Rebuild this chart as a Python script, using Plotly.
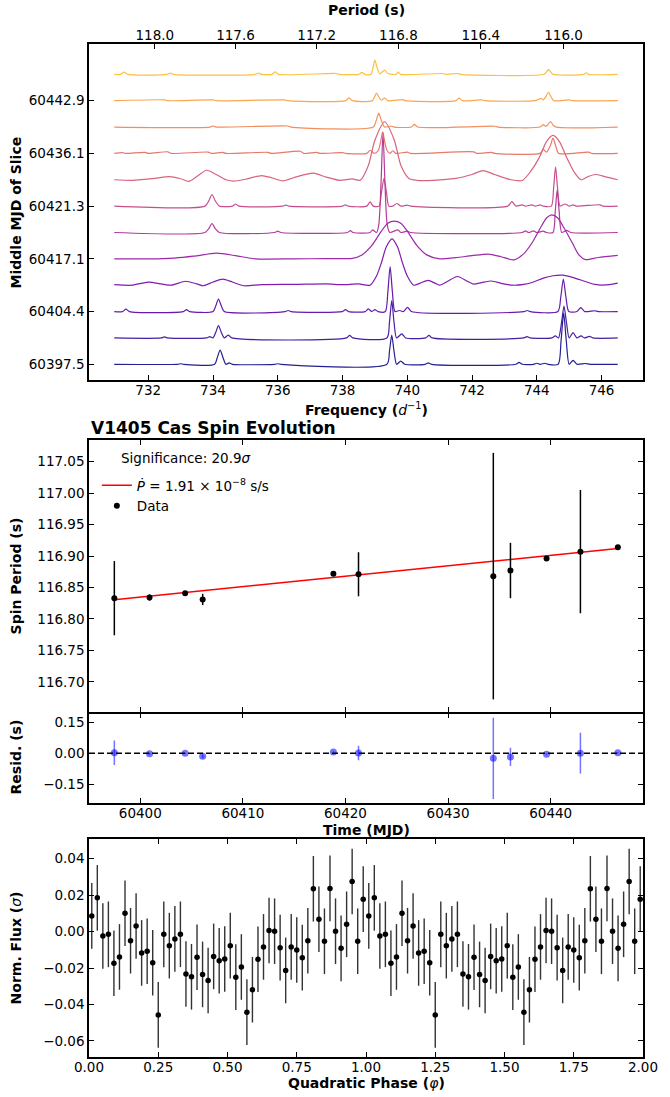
import plotly.graph_objects as go
from plotly.colors import sample_colorscale

# ---- periodogram slices: (frequency 1/d, normalised power) ----
slice_labels = ["60397.5", "60404.4", "60417.1", "60421.3", "60436.1", "60442.9"]
period_ticks = [118.0, 117.6, 117.2, 116.8, 116.4, 116.0]

slice_00 = [(730.95, 0), (732.9, 0), (733.0, 0.02), (733.1, 0), (734.05, 0), (734.13, 0.25), (734.22, 0.54),
            (734.31, 0.25), (734.4, 0), (734.5, 0.05), (734.6, 0), (735.9, 0), (736.0, 0.02), (736.1, 0),
            (739.37, 0), (739.45, 0.5), (739.52, 1.11), (739.59, 0.5), (739.67, 0), (739.8, 0.12), (739.92, 0),
            (740.55, 0), (740.65, 0.05), (740.75, 0), (743.35, 0), (743.45, 0.07), (743.55, 0), (743.9, 0),
            (744.0, 0.04), (744.1, 0), (744.25, 0.04), (744.35, 0), (744.66, 0), (744.75, 0.9), (744.83, 1.94),
            (744.91, 0.9), (745.0, 0), (745.12, 0.15), (745.24, 0), (745.5, 0.03), (745.65, 0), (746.5, 0)]
slice_01 = [(730.95, 0), (732.4, 0), (732.5, 0.04), (732.6, 0), (733.8, 0), (733.9, 0.05), (734.0, 0),
            (734.08, 0.2), (734.17, 0.47), (734.26, 0.2), (734.35, 0), (734.47, 0.11), (734.58, 0),
            (738.12, 0), (738.22, 0.1), (738.32, 0), (739.37, 0), (739.45, 0.6), (739.52, 1.42), (739.59, 0.6),
            (739.67, 0), (739.83, 0.15), (739.95, 0), (740.57, 0), (740.67, 0.1), (740.77, 0), (743.6, 0),
            (743.7, 0.05), (743.8, 0), (744.47, 0), (744.57, 0.08), (744.67, 0), (744.76, 0.55), (744.84, 1.21),
            (744.92, 0.55), (745.0, 0), (745.12, 0.2), (745.24, 0), (745.37, 0.08), (745.47, 0), (745.63, 0.06),
            (745.73, 0), (746.5, 0)]
slice_02 = [(730.95, 0), (731.2, 0), (731.31, 0.09), (731.42, 0), (733.08, 0), (733.18, 0.07), (733.28, 0),
            (734.0, 0), (734.08, 0.2), (734.17, 0.47), (734.26, 0.2), (734.35, 0), (736.22, 0), (736.32, 0.04),
            (736.42, 0), (737.99, 0), (738.09, 0.07), (738.19, 0), (738.7, 0), (738.8, 0.1), (738.9, 0),
            (739.0, 0.07), (739.1, 0), (739.32, 0), (739.4, 0.75), (739.47, 1.71), (739.54, 0.75), (739.62, 0),
            (739.76, 0.04), (739.88, 0), (740.01, 0.16), (740.13, 0), (743.6, 0), (743.7, 0.04), (743.8, 0),
            (744.65, 0), (744.74, 0.55), (744.82, 1.23), (744.9, 0.55), (744.99, 0), (745.24, 0),
            (745.36, 0.15), (745.48, 0), (745.8, 0.03), (745.9, 0), (746.5, 0)]
slice_03 = [(730.95, 0.02), (731.5, 0.0), (732.0, 0.12), (732.4, 0.05), (732.7, 0.0), (733.15, 0.15),
            (733.5, 0.05), (733.7, -0.02), (734.0, 0.12), (734.3, 0.23), (734.6, 0.12), (734.95, -0.02),
            (735.5, 0.02), (736.5, 0.03), (737.5, 0.05), (738.0, 0.02), (738.5, 0.05), (738.85, 0.0),
            (739.05, 0.35), (739.2, 0.85), (739.35, 1.45), (739.53, 1.76), (739.7, 1.45), (739.85, 0.85),
            (740.0, 0.35), (740.2, 0.0), (740.4, 0.08), (740.65, 0.18), (740.85, 0.08), (741.0, 0.0),
            (741.25, 0.15), (741.55, 0.33), (741.85, 0.15), (742.05, 0.04), (742.3, 0.1), (742.6, 0.16),
            (742.9, 0.07), (743.25, 0.0), (743.6, 0.03), (743.9, 0.12), (744.2, 0.27), (744.5, 0.36),
            (744.8, 0.38), (745.1, 0.3), (745.5, 0.14), (745.8, 0.03), (746.0, 0.0), (746.3, 0.03), (746.5, 0.08)]
slice_04 = [(730.95, 0), (732.0, 0.0), (732.8, 0.03), (733.4, 0.1), (734.1, 0.22), (734.7, 0.12), (735.3, 0.0),
            (736.5, 0.0), (737.5, 0.01), (738.3, 0.02), (738.6, 0.15), (738.9, 0.5), (739.2, 1.05), (739.4, 1.35),
            (739.6, 1.43), (739.8, 1.35), (740.0, 1.05), (740.3, 0.5), (740.6, 0.15), (741.0, 0.0), (741.5, 0.05),
            (742.0, 0.12), (742.5, 0.18), (742.9, 0.08), (743.3, -0.04), (743.6, 0.2), (743.85, 0.6),
            (744.1, 1.15), (744.3, 1.55), (744.46, 1.67), (744.65, 1.55), (744.85, 1.15), (745.1, 0.6),
            (745.3, 0.15), (745.5, -0.03), (745.9, 0.05), (746.5, 0.13)]
slice_05 = [(730.95, 0), (733.75, 0), (733.87, 0.15), (733.97, 0.34), (734.07, 0.15), (734.2, 0), (735.9, 0),
            (736.0, 0.05), (736.1, 0), (738.15, 0), (738.24, 0.07), (738.33, 0), (738.85, 0), (738.93, 0.1),
            (739.05, 0), (739.12, 0.3), (739.19, 1.9), (739.25, 3.8), (739.31, 1.9), (739.38, 0.3), (739.46, 0),
            (739.71, 0.1), (739.8, 0), (740.0, 0.05), (740.1, 0), (743.55, 0), (743.65, 0.06), (743.75, 0),
            (743.9, 0.06), (744.0, 0), (744.2, 0.05), (744.3, 0), (744.5, 0), (744.57, 0.8), (744.63, 1.62),
            (744.69, 0.8), (744.77, 0), (744.92, 0.08), (745.05, 0), (746.5, 0)]
slice_06 = [(730.95, 0), (733.75, 0), (733.87, 0.2), (733.97, 0.44), (734.07, 0.2), (734.2, 0), (734.6, 0),
            (734.7, 0.08), (734.8, 0), (736.15, 0), (736.25, 0.04), (736.35, 0), (738.0, 0), (738.09, 0.05),
            (738.18, 0), (738.75, 0), (738.85, 0.16), (738.95, 0), (739.13, 0), (739.2, 0.5), (739.28, 1.05),
            (739.36, 0.5), (739.43, 0), (739.55, 0.0), (739.68, 0.1), (739.8, 0), (740.0, 0.04), (740.1, 0),
            (743.1, 0), (743.23, 0.17), (743.36, 0), (743.55, 0.05), (743.65, 0), (743.85, 0.05), (743.95, 0),
            (744.1, 0.05), (744.2, 0), (744.45, 0), (744.52, 0.7), (744.58, 1.49), (744.64, 0.7), (744.72, 0),
            (744.87, 0.08), (745.0, 0), (745.12, 0.05), (745.22, 0), (745.95, 0.05), (746.05, 0), (746.5, 0)]
slice_07 = [(730.95, 0), (731.5, -0.02), (732.2, 0.05), (732.65, 0.12), (733.0, 0.04), (733.25, -0.06),
            (733.5, 0.12), (733.8, 0.36), (734.1, 0.2), (734.4, 0.0), (734.65, -0.05), (735.0, 0.02),
            (735.5, 0.16), (735.8, 0.08), (736.15, -0.04), (736.6, 0.12), (737.1, 0.25), (737.5, 0.1),
            (737.9, -0.02), (738.3, 0.03), (738.55, -0.02), (738.8, 0.55), (739.0, 1.5), (739.3, 2.2),
            (739.6, 1.5), (739.8, 0.55), (740.05, 0.05), (740.3, -0.02), (740.8, -0.02), (741.5, 0.05),
            (742.0, 0.2), (742.35, 0.35), (742.7, 0.2), (743.2, 0.0), (743.55, -0.03), (743.8, 0.3),
            (744.08, 0.85), (744.3, 1.45), (744.5, 1.68), (744.7, 1.45), (744.92, 0.85), (745.15, 0.3),
            (745.37, 0.0), (745.55, 0.1), (745.8, 0.2), (746.1, 0.12), (746.5, 0.0)]
slice_08 = [(730.95, 0), (731.2, 0.03), (731.3, 0), (731.9, 0.04), (732.0, 0), (732.6, 0.06), (732.7, 0),
            (733.85, 0.05), (733.95, 0), (734.3, 0.04), (734.4, 0), (735.7, 0.04), (735.8, 0), (736.7, 0.08),
            (736.8, 0), (737.2, 0.04), (737.3, 0), (738.0, 0.03), (738.1, 0), (738.75, 0), (738.85, 0.12),
            (738.98, 0), (739.1, 0.1), (739.17, 0.4), (739.24, 0.82), (739.31, 0.4), (739.38, 0.1), (739.47, 0.0),
            (739.55, 0.1), (739.65, 0), (740.0, 0.05), (740.1, 0), (742.05, 0.06), (742.15, 0), (742.6, 0.04),
            (742.7, 0), (744.1, 0), (744.2, 0.14), (744.3, 0.05), (744.42, 0.3), (744.5, 0.58), (744.58, 0.3),
            (744.68, 0), (745.6, 0.05), (745.7, 0), (746.5, 0)]
slice_09 = [(730.95, 0), (733.9, 0), (734.0, 0.04), (734.1, 0), (736.3, 0.04), (736.4, 0), (738.95, 0),
            (739.04, 0.25), (739.12, 0.53), (739.2, 0.25), (739.3, 0), (739.5, 0.04), (739.6, 0), (740.12, 0),
            (740.22, 0.1), (740.32, 0), (742.7, 0.03), (742.8, 0), (744.1, 0), (744.2, 0.09), (744.28, 0.03),
            (744.35, 0.1), (744.42, 0.21), (744.5, 0.08), (744.58, 0), (746.5, 0)]
slice_10 = [(730.95, 0), (732.5, 0.03), (732.6, 0), (734.0, 0.03), (734.1, 0), (736.2, 0.03), (736.3, 0),
            (738.1, 0), (738.2, 0.11), (738.3, 0), (738.92, 0), (738.99, 0.14), (739.05, 0.29), (739.12, 0.14),
            (739.2, 0.02), (739.3, 0.1), (739.4, 0), (739.85, 0.04), (739.95, 0), (741.5, 0), (741.6, 0.1),
            (741.7, 0), (742.3, 0.03), (742.4, 0), (743.95, 0.0), (744.05, 0.05), (744.13, 0.09), (744.2, 0.03),
            (744.28, 0.15), (744.36, 0.32), (744.44, 0.15), (744.52, 0), (745.0, 0.03), (745.1, 0), (746.5, 0)]
slice_11 = [(730.95, 0), (731.15, 0), (731.26, 0.08), (731.37, 0), (732.58, 0), (732.68, 0.05), (732.78, 0),
            (735.3, 0), (735.41, 0.05), (735.5, 0), (735.82, 0), (735.92, 0.09), (736.02, 0), (737.8, 0.03),
            (737.9, 0), (738.5, 0), (738.6, 0.07), (738.7, 0), (738.88, 0), (738.94, 0.25), (739.0, 0.54),
            (739.07, 0.25), (739.15, 0.02), (739.3, 0.16), (739.4, 0.03), (739.65, 0), (739.72, 0.08),
            (739.8, 0), (741.1, 0.03), (741.2, 0), (741.55, 0.03), (741.65, 0), (744.23, 0), (744.3, 0.09),
            (744.36, 0.19), (744.43, 0.09), (744.5, 0), (745.45, 0), (745.53, 0.06), (745.6, 0), (746.5, 0)]
slices = [slice_00, slice_01, slice_02, slice_03, slice_04, slice_05,
          slice_06, slice_07, slice_08, slice_09, slice_10, slice_11]

# ---- spin period evolution ----
mjd = [60397.47, 60400.90, 60404.37, 60406.08, 60418.82, 60421.27, 60434.41, 60436.08, 60439.60, 60442.90, 60446.55]
spin_period = [116.833, 116.834, 116.841, 116.831, 116.872, 116.871, 116.868, 116.877, 116.896, 116.907, 116.914]
spin_err = [0.059, 0.005, 0.003, 0.009, 0.002, 0.035, 0.196, 0.044, 0.003, 0.098, 0.002]
fit_mjd = [60397.47, 60446.55]
fit_period = [116.8305, 116.9120]
resid = [0.002, -0.003, -0.001, -0.015, 0.006, 0.001, -0.025, -0.018, -0.005, 0.000, 0.002]

# ---- folded light curve ----
phase = [0.01, 0.03, 0.05, 0.07, 0.09, 0.11, 0.13, 0.15, 0.17, 0.19, 0.21, 0.23, 0.25, 0.27, 0.29, 0.31, 0.33,
         0.35, 0.37, 0.39, 0.41, 0.43, 0.45, 0.47, 0.49, 0.51, 0.53, 0.55, 0.57, 0.59, 0.61, 0.63, 0.65, 0.67,
         0.69, 0.71, 0.73, 0.75, 0.77, 0.79, 0.81, 0.83, 0.85, 0.87, 0.89, 0.91, 0.93, 0.95, 0.97, 0.99]
flux = [0.0086, 0.0185, -0.0024, -0.0015, -0.0174, -0.0139, 0.0101, -0.0050, 0.0031, -0.0117, -0.0108, -0.0171,
        -0.0457, -0.0015, -0.0077, -0.0040, -0.0015, -0.0233, -0.0248, -0.0141, -0.0235, -0.0268, -0.0136,
        -0.0160, -0.0150, -0.0077, -0.0250, -0.0194, -0.0442, -0.0319, -0.0152, -0.0084, 0.0006, 0.0002,
        -0.0088, -0.0213, -0.0084, -0.0101, -0.0143, -0.0050, 0.0235, 0.0068, -0.0053, 0.0237, 0.0002,
        -0.0092, 0.0040, 0.0275, -0.0053, 0.0178]
flux_err = [0.018] * 50

# ---- layout helpers: reference pixel -> paper ----
W, H = 670, 1097
L, R, T, B = 89, 16, 44, 40


def px(x):
    return (x - L) / (W - L - R)


def py(y):
    return (H - B - y) / (H - T - B)


FONT = "DejaVu Sans"
fig = go.Figure()

colors = sample_colorscale("Plasma", [i * 0.85 / 11 for i in range(12)])
for i, s in enumerate(slices):
    fig.add_trace(go.Scatter(
        x=[p[0] for p in s], y=[i + p[1] for p in s], mode="lines",
        line=dict(color=colors[i], width=1.2, shape="spline", smoothing=0.7),
        opacity=0.9, showlegend=False, hoverinfo="skip", xaxis="x", yaxis="y"))

# invisible trace so that the period axis on top is drawn
fig.add_trace(go.Scatter(x=[738], y=[0], mode="markers", marker=dict(opacity=0),
                         showlegend=False, hoverinfo="skip", xaxis="x5", yaxis="y"))

fig.add_trace(go.Scatter(
    x=fit_mjd, y=fit_period, mode="lines", line=dict(color="red", width=1.5),
    name="<i>Ṗ</i> = 1.91 × 10<sup>−8</sup> s/s", xaxis="x2", yaxis="y2"))
fig.add_trace(go.Scatter(
    x=mjd, y=spin_period, mode="markers", marker=dict(color="black", size=6),
    error_y=dict(type="data", array=spin_err, width=0, thickness=1.5, color="black"),
    name="Data", xaxis="x2", yaxis="y2"))

fig.add_trace(go.Scatter(
    x=mjd, y=resid, mode="markers", marker=dict(color="rgba(0,0,255,0.55)", size=7),
    error_y=dict(type="data", array=spin_err, width=0, thickness=1.5, color="rgba(0,0,255,0.55)"),
    showlegend=False, xaxis="x3", yaxis="y3"))

fig.add_trace(go.Scatter(
    x=phase + [p + 1 for p in phase], y=flux + flux, mode="markers",
    marker=dict(color="black", size=5.5),
    error_y=dict(type="data", array=flux_err + flux_err, width=0, thickness=1.4, color="#333333"),
    showlegend=False, xaxis="x4", yaxis="y4"))

ax = dict(showline=True, linecolor="black", linewidth=1.5, ticks="inside", ticklen=5, tickwidth=1,
          tickcolor="black", showgrid=False, zeroline=False,
          tickfont=dict(family=FONT, size=13.5, color="black"))
xax = dict(ax, ticklabelstandoff=-3)

fig.update_layout(
    width=W, height=H, margin=dict(l=L, r=R, t=T, b=B),
    paper_bgcolor="white", plot_bgcolor="white",
    font=dict(family=FONT, color="black"),
    xaxis=dict(xax, domain=[0, 1], range=[730.17, 747.28], anchor="y", mirror=True,
               tickvals=[732, 734, 736, 738, 740, 742, 744, 746]),
    xaxis5=dict(xax, domain=[0, 1], range=[730.17, 747.28], anchor="y", overlaying="x", side="top",
                tickvals=[86400 / p for p in period_ticks], ticktext=[f"{p:.1f}" for p in period_ticks]),
    yaxis=dict(ax, domain=[py(380), 1], range=[-0.596, 12.15], anchor="x", mirror=True,
               tickvals=[0, 2, 4, 6, 8, 10], ticktext=slice_labels),
    xaxis2=dict(xax, domain=[0, 1], range=[60395.0, 60449.0], anchor="y2", mirror="ticks",
                tickvals=[60400, 60410, 60420, 60430, 60440], showticklabels=False),
    yaxis2=dict(ax, domain=[py(712), py(440)], range=[116.652, 117.0845], anchor="x2", mirror="ticks",
                tickvals=[116.70, 116.75, 116.80, 116.85, 116.90, 116.95, 117.00, 117.05], tickformat=".2f"),
    xaxis3=dict(xax, domain=[0, 1], range=[60395.0, 60449.0], anchor="y3", mirror="ticks",
                tickvals=[60400, 60410, 60420, 60430, 60440], tickformat="d"),
    yaxis3=dict(ax, domain=[py(803), py(713.5)], range=[-0.240, 0.191], anchor="x3", mirror="ticks",
                tickvals=[-0.15, 0, 0.15], tickformat=".2f"),
    xaxis4=dict(xax, domain=[0, 1], range=[0, 2], anchor="y4", mirror="ticks",
                tickvals=[0, 0.25, 0.5, 0.75, 1.0, 1.25, 1.5, 1.75, 2.0], tickformat=".2f"),
    yaxis4=dict(ax, domain=[0, py(839)], range=[-0.0688, 0.0508], anchor="x4", mirror="ticks",
                tickvals=[-0.06, -0.04, -0.02, 0, 0.02, 0.04], tickformat=".2f"),
    legend=dict(x=px(97), y=py(470), xanchor="left", yanchor="top", bgcolor="rgba(0,0,0,0)",
                font=dict(family=FONT, size=13.5), itemwidth=30, tracegroupgap=0),
    shapes=[dict(type="line", xref="x3 domain", x0=0, x1=1, yref="y3", y0=0, y1=0,
                 line=dict(color="black", width=1.5, dash="6px,3px"))],
)

bold = dict(family=FONT, size=14, color="black")
notes = [
    ("<b>Period (s)</b>", 0.5, py(10), 0),
    ("<b>Frequency (</b><i>d</i><sup>−1</sup><b>)</b>", 0.5, py(409), 0),
    ("<b>Middle MJD of Slice</b>", px(15), py(212), -90),
    ("<b>Spin Period (s)</b>", px(15), py(576), -90),
    ("<b>Resid. (s)</b>", px(15), py(757), -90),
    ("<b>Time (MJD)</b>", 0.5, py(830), 0),
    ("<b>Norm. Flux (</b><i>σ</i><b>)</b>", px(15), py(948), -90),
    ("<b>Quadratic Phase (</b><i>φ</i><b>)</b>", 0.5, py(1083), 0),
]
for text, x, y, ang in notes:
    fig.add_annotation(text=text, x=x, y=y, xref="paper", yref="paper", showarrow=False,
                       textangle=ang, font=bold, xanchor="center", yanchor="middle")

fig.add_annotation(text="<b>V1405 Cas Spin Evolution</b>", x=0, y=py(428), xref="paper", yref="paper",
                   showarrow=False, xanchor="left", yanchor="middle",
                   font=dict(family=FONT, size=17, color="black"))
fig.add_annotation(text="Significance: 20.9<i>σ</i>", x=px(120), y=py(458), xref="paper", yref="paper",
                   showarrow=False, xanchor="left", yanchor="middle",
                   font=dict(family=FONT, size=13.5, color="black"))

# drop the default page margin so the figure sits at the window's corner
fig.write_html("out.html", config={"displayModeBar": False},
               post_script="document.body.style.margin='0';")
